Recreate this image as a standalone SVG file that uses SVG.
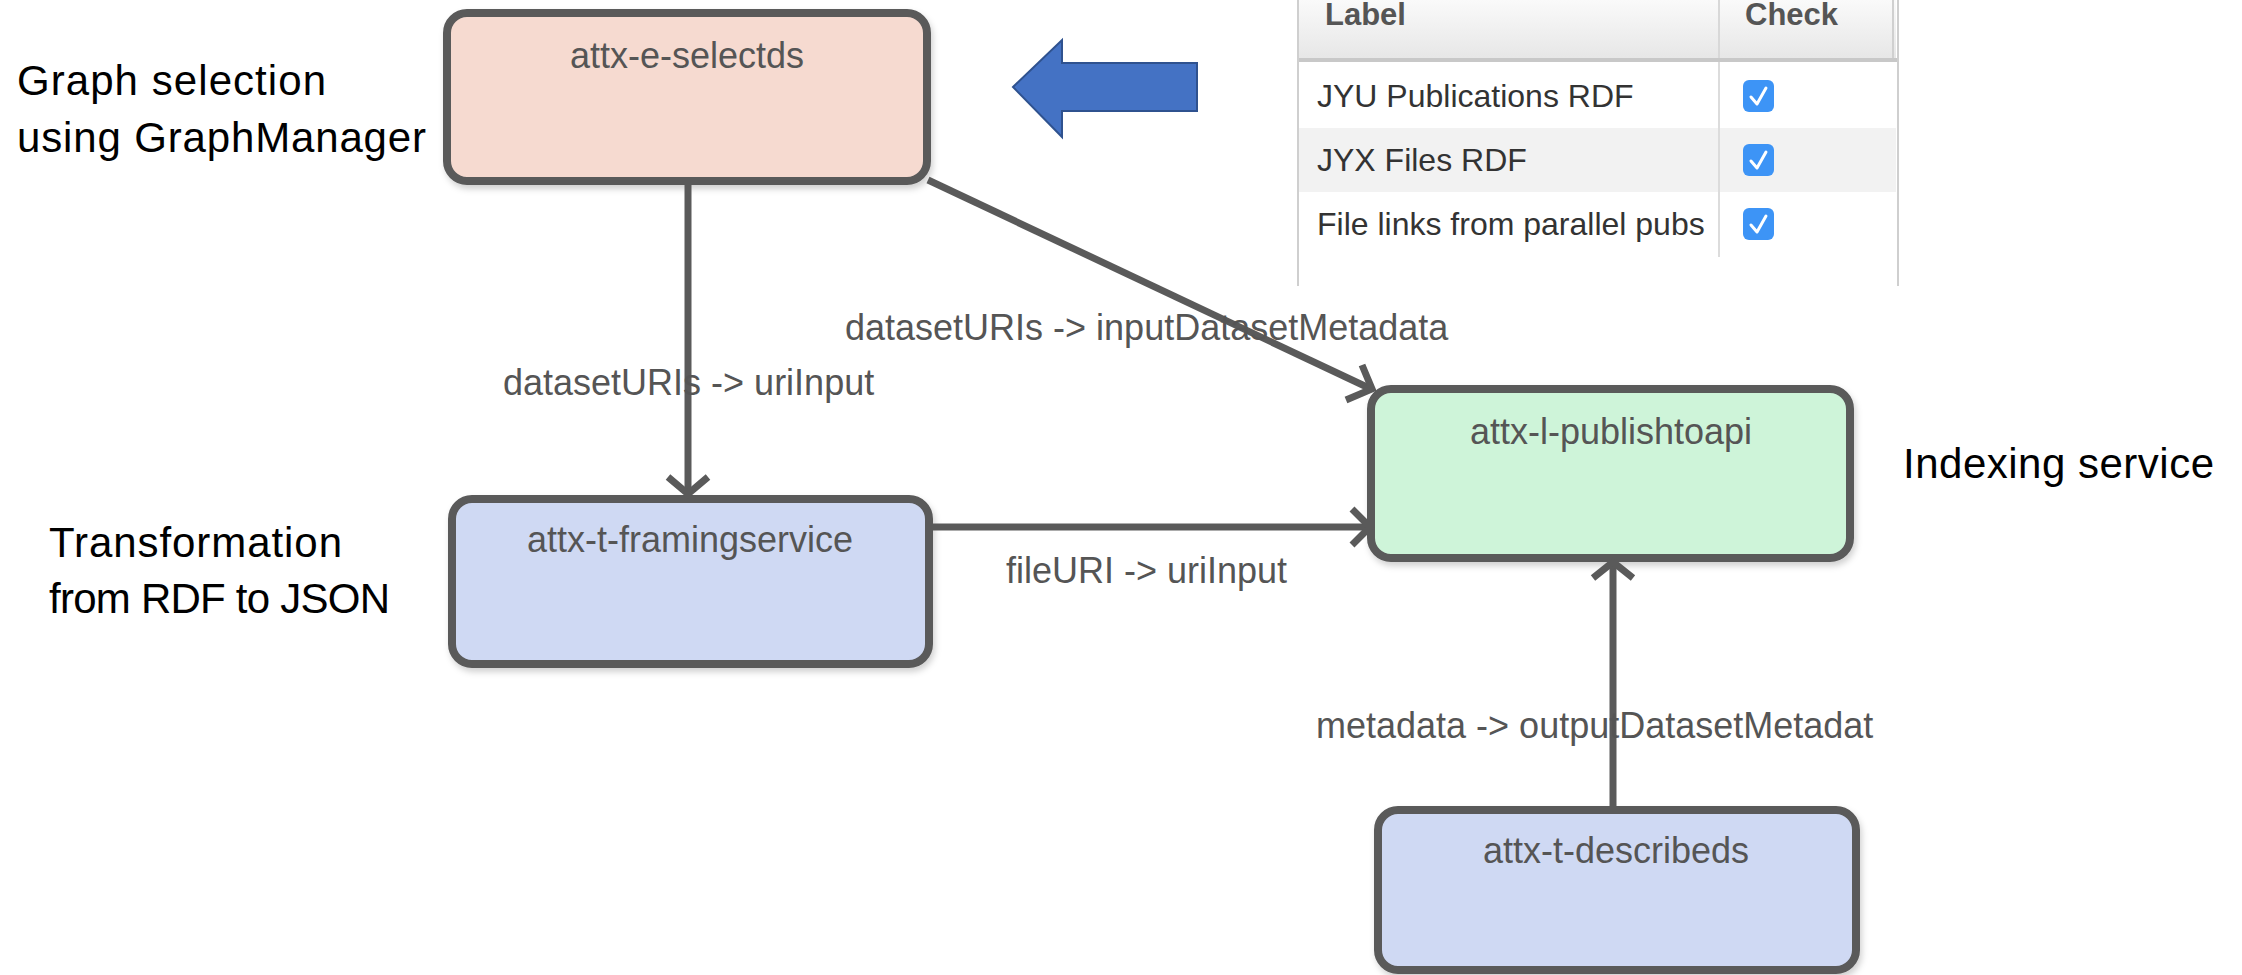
<svg xmlns="http://www.w3.org/2000/svg" width="2242" height="975" viewBox="0 0 2242 975">
<style>
.node rect.box{stroke:#5a5a5a;stroke-width:8;filter:url(#sh)}
.title{font-family:"Liberation Sans",Arial,sans-serif;font-size:36px;fill:#555;text-anchor:middle}
.lbl{font-family:"Liberation Sans",Arial,sans-serif;font-size:36px;fill:#555}
.ann{font-family:"Liberation Sans",Arial,sans-serif;font-size:42px;fill:#000}
.conn line,.conn polyline{stroke:#5a5a5a;stroke-width:7;fill:none}
.tbl{font-family:"Liberation Sans",Arial,sans-serif;font-size:32px;fill:#333}
.th{font-family:"Liberation Sans",Arial,sans-serif;font-size:31px;font-weight:bold;fill:#555}
.cb{fill:#3d94f6}
.ck{fill:none;stroke:#fff;stroke-width:3;stroke-linecap:round;stroke-linejoin:round}
</style>
<defs>
<filter id="sh" x="-10%" y="-10%" width="120%" height="130%">
<feDropShadow dx="2" dy="4" stdDeviation="3" flood-color="#000" flood-opacity="0.18"/>
</filter>
<linearGradient id="hg" x1="0" y1="0" x2="0" y2="1">
<stop offset="0" stop-color="#fafafa"/>
<stop offset="1" stop-color="#e6e6e6"/>
</linearGradient>
</defs>
<rect width="2242" height="975" fill="#fff"/>

<!-- table screenshot -->
<g id="table">
<rect x="1298" y="0" width="598" height="60" fill="url(#hg)"/>
<line x1="1719" y1="0" x2="1719" y2="60" stroke="#d8d8d8" stroke-width="2"/>
<line x1="1893" y1="0" x2="1893" y2="60" stroke="#d0d0d0" stroke-width="2"/>
<text class="th" x="1325" y="25">Label</text>
<text class="th" x="1745" y="25">Check</text>
<rect x="1298" y="128" width="598" height="64" fill="#f2f2f2"/>
<line x1="1298" y1="60" x2="1898" y2="60" stroke="#c8c8c8" stroke-width="4"/>
<line x1="1719" y1="62" x2="1719" y2="257" stroke="#dcdcdc" stroke-width="2"/>
<line x1="1298" y1="0" x2="1298" y2="286" stroke="#cfcfcf" stroke-width="2"/>
<line x1="1898" y1="0" x2="1898" y2="286" stroke="#cfcfcf" stroke-width="2"/>
<text class="tbl" x="1317" y="107">JYU Publications RDF</text>
<text class="tbl" x="1317" y="171">JYX Files RDF</text>
<text class="tbl" x="1317" y="235">File links from parallel pubs</text>
<rect class="cb" x="1743" y="80" width="31" height="32" rx="6"/>
<polyline class="ck" points="1751,97 1757,104 1766,88"/>
<rect class="cb" x="1743" y="144" width="31" height="32" rx="6"/>
<polyline class="ck" points="1751,161 1757,168 1766,152"/>
<rect class="cb" x="1743" y="208" width="31" height="32" rx="6"/>
<polyline class="ck" points="1751,225 1757,232 1766,216"/>
</g>

<!-- big blue arrow -->
<g id="blue-arrow">
<polygon points="1013,87 1062,40 1062,63 1197,63 1197,111 1062,111 1062,137" fill="#4472c4" stroke="#2f528f" stroke-width="2"/>
</g>

<!-- annotations -->
<g id="annotations">
<text class="ann" x="17" y="95" textLength="309" lengthAdjust="spacing">Graph selection</text>
<text class="ann" x="17" y="152" textLength="409" lengthAdjust="spacing">using GraphManager</text>
<text class="ann" x="49" y="557" textLength="293" lengthAdjust="spacing">Transformation</text>
<text class="ann" x="49" y="613" textLength="341" lengthAdjust="spacing">from RDF to JSON</text>
<text class="ann" x="1903" y="478" textLength="311" lengthAdjust="spacing">Indexing service</text>
</g>

<!-- nodes -->
<g id="node-selectds" class="node">
<rect class="box" x="447" y="13" width="480" height="168" rx="20" fill="#f6dad0"/>
<text class="title" x="687" y="68">attx-e-selectds</text>
</g>
<g id="node-framingservice" class="node">
<rect class="box" x="452" y="499" width="477" height="165" rx="20" fill="#cfd9f3"/>
<text class="title" x="690" y="552">attx-t-framingservice</text>
</g>
<g id="node-publishtoapi" class="node">
<rect class="box" x="1371" y="389" width="479" height="169" rx="20" fill="#cef4d9"/>
<text class="title" x="1611" y="444">attx-l-publishtoapi</text>
</g>
<g id="node-describeds" class="node">
<rect class="box" x="1378" y="810" width="478" height="160" rx="20" fill="#cfd9f3"/>
<text class="title" x="1616" y="863">attx-t-describeds</text>
</g>

<!-- connectors -->
<g id="connectors" class="conn">
<line x1="688" y1="185" x2="688" y2="492"/>
<polyline points="668,477 688,494 708,477"/>
<line x1="928" y1="180" x2="1369" y2="388"/>
<polyline points="1362,365 1372,389 1346,400"/>
<line x1="933" y1="527" x2="1367" y2="527"/>
<polyline points="1352,509 1370,527 1352,545"/>
<line x1="1613" y1="806" x2="1613" y2="564"/>
<polyline points="1593,578 1613,562 1633,578"/>
</g>

<!-- connector labels -->
<g id="labels">
<text class="lbl" x="503" y="395">datasetURIs -&gt; uriInput</text>
<text class="lbl" x="845" y="340">datasetURIs -&gt; inputDatasetMetadata</text>
<text class="lbl" x="1006" y="583">fileURI -&gt; uriInput</text>
<text class="lbl" x="1316" y="738">metadata -&gt; outputDatasetMetadat</text>
</g>
</svg>
